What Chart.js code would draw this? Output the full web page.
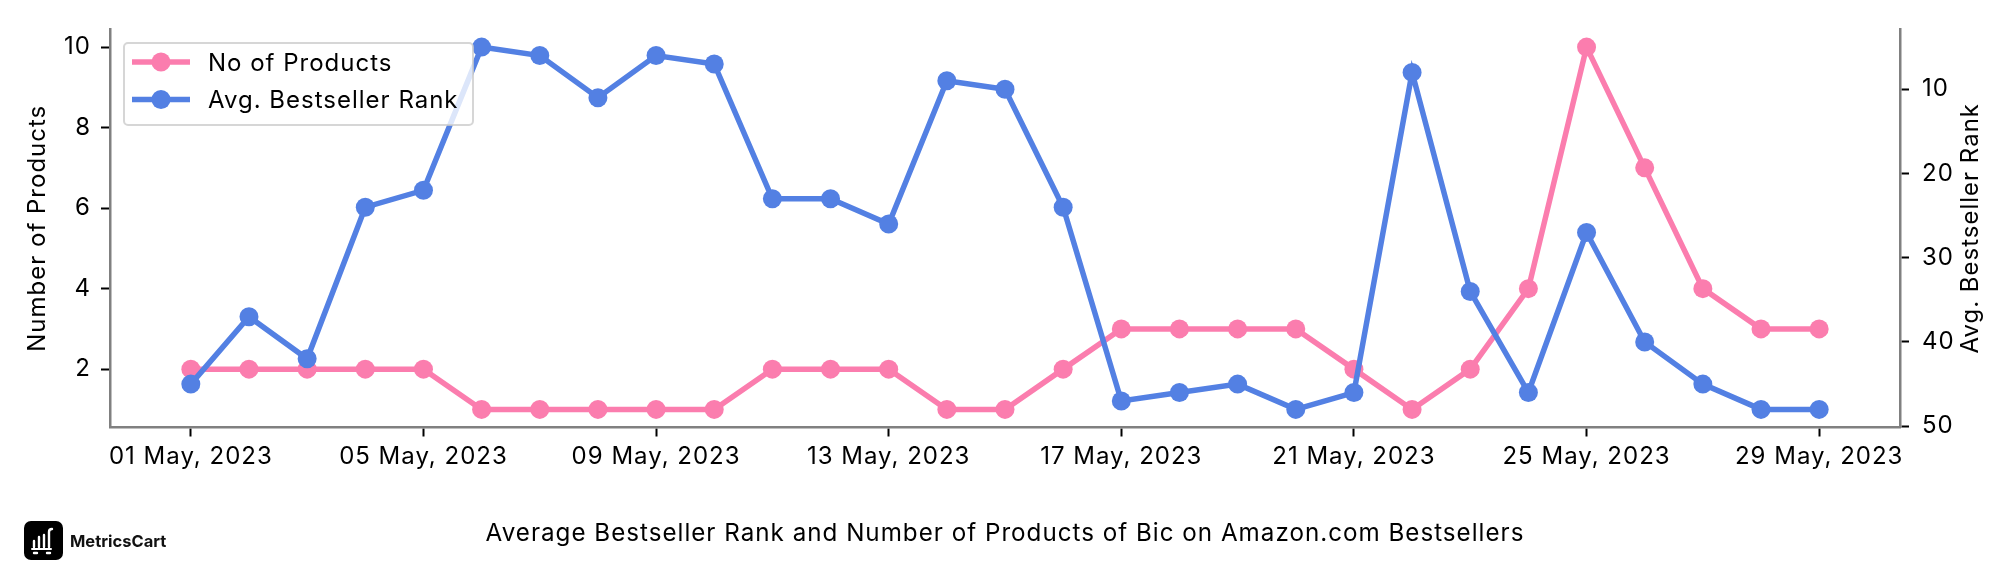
<!DOCTYPE html>
<html>
<head>
<meta charset="utf-8">
<title>Average Bestseller Rank and Number of Products of Bic</title>
<script src="https://cdn.jsdelivr.net/npm/chart.js@4"></script>
<style>
  html, body { margin: 0; padding: 0; background: #fff; }
  #wrap { position: relative; width: 2016px; height: 576px; font-family: Inter, sans-serif; }
  #logo { position: absolute; left: 24px; top: 521px; }
  #brand { position: absolute; left: 70px; top: 531px; font-size: 16.5px; font-weight: 700; line-height: 20px; color: #111; }
</style>
</head>
<body>
<div id="wrap">
  <canvas id="chart" width="2016" height="576"></canvas>
  <svg id="logo" width="39" height="39" viewBox="0 0 39 39">
    <rect width="39" height="39" rx="7" fill="#000"/>
    <g stroke="#fff" stroke-width="2.4" fill="none" stroke-linecap="round">
      <path d="M10 20v6M15 16v10M20 14v12M28 8q-3 0-3 3v15"/>
      <path d="M8 28h19" stroke-width="2"/>
      <path d="M10 32h3M23 32h3"/>
    </g>
  </svg>
  <div id="brand">MetricsCart</div>
</div>
<script>
const FONT = "Inter, sans-serif";
const PINK = "#fb7dae";
const BLUE = "#5380e3";
const SPINE = "#808080";

const dates = ["01 May, 2023", "02 May, 2023", "03 May, 2023", "04 May, 2023", "05 May, 2023", "06 May, 2023",
  "07 May, 2023", "08 May, 2023", "09 May, 2023", "10 May, 2023", "11 May, 2023", "12 May, 2023",
  "13 May, 2023", "14 May, 2023", "15 May, 2023", "16 May, 2023", "17 May, 2023", "18 May, 2023",
  "19 May, 2023", "20 May, 2023", "21 May, 2023", "22 May, 2023", "23 May, 2023", "24 May, 2023",
  "25 May, 2023", "26 May, 2023", "27 May, 2023", "28 May, 2023", "29 May, 2023"];
const products = [2, 2, 2, 2, 2, 1, 1, 1, 1, 1, 2, 2, 2, 1, 1, 2, 3, 3, 3, 3, 2, 1, 2, 4, 10, 7, 4, 3, 3];
const ranks = [45, 37, 42, 24, 22, 5, 6, 11, 6, 7, 23, 23, 26, 9, 10, 24, 47, 46, 45, 48, 46, 8, 34, 46, 27, 40, 45, 48, 48];

const xTicks = [0, 4, 8, 12, 16, 20, 24, 28];
const productTicks = [2, 4, 6, 8, 10];
const rankTicks = [10, 20, 30, 40, 50];

const titleText = "Average Bestseller Rank and Number of Products of Bic on Amazon.com Bestsellers";
const legendLabels = ["No of Products", "Avg. Bestseller Rank"];
const leftTitle = "Number of Products";
const rightTitle = "Avg. Bestseller Rank";

// a fonte do original é mais larga que a Inter: compensa com espaçamento
const spacing = {
  id: "spacing",
  beforeDraw(chart) { chart.ctx.letterSpacing = "1px"; },
};

// legenda dentro da área do gráfico, com fundo translúcido por cima das linhas
const insideLegend = {
  id: "insideLegend",
  afterDraw(chart) {
    const ctx = chart.ctx;
    ctx.save();
    ctx.beginPath();
    ctx.roundRect(124, 43, 349, 82, 4);
    ctx.fillStyle = "rgba(255,255,255,0.8)";
    ctx.fill();
    ctx.lineWidth = 2;
    ctx.strokeStyle = "rgba(204,204,204,0.8)";
    ctx.stroke();
    [PINK, BLUE].forEach((color, i) => {
      const y = 62 + i * 37.5;
      ctx.strokeStyle = color;
      ctx.fillStyle = color;
      ctx.lineWidth = 5.5;
      ctx.beginPath();
      ctx.moveTo(132, y);
      ctx.lineTo(190, y);
      ctx.stroke();
      ctx.beginPath();
      ctx.arc(161, y, 9.5, 0, Math.PI * 2);
      ctx.fill();
      ctx.fillStyle = "#000";
      ctx.font = "24px " + FONT;
      ctx.textBaseline = "middle";
      ctx.fillText(legendLabels[i], 208, y + 1.5);
    });
    ctx.restore();
  },
};

// Chart.js gira o título do eixo direito para baixo; aqui ele sobe como no original
const rightAxisTitle = {
  id: "rightAxisTitle",
  afterDraw(chart) {
    const ctx = chart.ctx;
    const area = chart.chartArea;
    ctx.save();
    ctx.translate(1971, (area.top + area.bottom) / 2);
    ctx.rotate(-Math.PI / 2);
    ctx.font = "24px " + FONT;
    ctx.fillStyle = "#000";
    ctx.textAlign = "center";
    ctx.textBaseline = "middle";
    ctx.fillText(rightTitle, 0, 0);
    ctx.restore();
  },
};

const tickFont = { family: FONT, size: 24 };
const toPoints = (values) => values.map((v, i) => ({ x: i, y: v }));

function lineSet(label, values, color, axis, order) {
  return {
    label,
    data: toPoints(values),
    yAxisID: axis,
    order,
    borderColor: color,
    backgroundColor: color,
    borderWidth: 5.5,
    pointRadius: 9.5,
    pointBorderWidth: 0,
    tension: 0,
    clip: false,
  };
}

function useTicks(values) {
  return (scale) => { scale.ticks = values.map((value) => ({ value })); };
}

new Chart(document.getElementById("chart"), {
  type: "line",
  data: {
    datasets: [
      lineSet(legendLabels[0], products, PINK, "y", 2),
      lineSet(legendLabels[1], ranks, BLUE, "y1", 1),
    ],
  },
  options: {
    responsive: false,
    animation: false,
    layout: { padding: { top: 29 } },
    plugins: { legend: { display: false }, tooltip: { enabled: false } },
    scales: {
      x: {
        type: "linear",
        min: -1.39,
        max: 29.39,
        afterBuildTicks: useTicks(xTicks),
        afterFit: (s) => { s.height = 148.5; },
        border: { color: SPINE, width: 2.5 },
        grid: { drawOnChartArea: false, color: "#000", tickLength: 9, tickWidth: 2 },
        ticks: { font: tickFont, color: "#000", padding: 6, maxRotation: 0, autoSkip: false, callback: (v) => dates[v] },
        title: { display: true, text: titleText, color: "#000", font: { family: FONT, size: 24.2 }, padding: { top: 0, bottom: 28 } },
      },
      y: {
        min: 0.55,
        max: 10.45,
        afterBuildTicks: useTicks(productTicks),
        afterFit: (s) => { s.width = 110; },
        border: { color: SPINE, width: 2.5 },
        grid: { drawOnChartArea: false, color: "#000", tickLength: 9, tickWidth: 2 },
        ticks: { font: tickFont, color: "#000", padding: 10 },
        title: { display: true, text: leftTitle, color: "#000", font: tickFont, padding: { top: 23, bottom: 0 } },
      },
      y1: {
        position: "right",
        reverse: true,
        min: 2.85,
        max: 50.15,
        afterBuildTicks: useTicks(rankTicks),
        afterFit: (s) => { s.width = 116; },
        border: { color: SPINE, width: 2.5 },
        grid: { drawOnChartArea: false, color: "#000", tickLength: 9, tickWidth: 2 },
        ticks: { font: tickFont, color: "#000", padding: 13 },
      },
    },
  },
  plugins: [spacing, insideLegend, rightAxisTitle],
});
</script>
</body>
</html>
